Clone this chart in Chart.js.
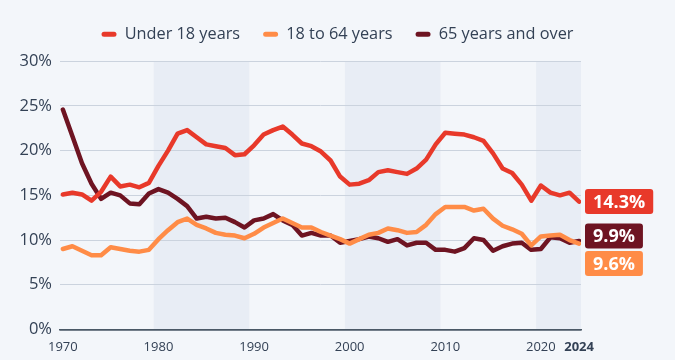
<!DOCTYPE html>
<html>
<head>
<meta charset="utf-8">
<script src="https://cdn.jsdelivr.net/npm/chart.js@4.4.1/dist/chart.umd.min.js"></script>
<style>
  html, body { margin: 0; padding: 0; background: #f3f6fa; }
  #wrap { width: 675px; height: 360px; position: relative; }
</style>
</head>
<body>
<div id="wrap"><canvas id="povertyChart"></canvas></div>
<script>
// Poverty rate by age group, 1970-2024 (%)
const years = [];
for (let y = 1970; y <= 2024; y++) years.push(y);

const under18 = [15.1, 15.3, 15.1, 14.4, 15.4, 17.1, 16.0, 16.2, 15.9, 16.4,
  18.3, 20.0, 21.9, 22.3, 21.5, 20.7, 20.5, 20.3, 19.5, 19.6,
  20.6, 21.8, 22.3, 22.7, 21.8, 20.8, 20.5, 19.9, 18.9, 17.1,
  16.2, 16.3, 16.7, 17.6, 17.8, 17.6, 17.4, 18.0, 19.0, 20.7,
  22.0, 21.9, 21.8, 21.5, 21.1, 19.7, 18.0, 17.5, 16.2, 14.4,
  16.1, 15.3, 15.0, 15.3, 14.3];

const age18to64 = [9.0, 9.3, 8.8, 8.3, 8.3, 9.2, 9.0, 8.8, 8.7, 8.9,
  10.1, 11.1, 12.0, 12.4, 11.7, 11.3, 10.8, 10.6, 10.5, 10.2,
  10.7, 11.4, 11.9, 12.4, 11.9, 11.4, 11.4, 10.9, 10.5, 10.1,
  9.6, 10.1, 10.6, 10.8, 11.3, 11.1, 10.8, 10.9, 11.7, 12.9,
  13.7, 13.7, 13.7, 13.3, 13.5, 12.4, 11.6, 11.2, 10.7, 9.4,
  10.4, 10.5, 10.6, 10.0, 9.6];

const over65 = [24.6, 21.6, 18.6, 16.3, 14.6, 15.3, 15.0, 14.1, 14.0, 15.2,
  15.7, 15.3, 14.6, 13.8, 12.4, 12.6, 12.4, 12.5, 12.0, 11.4,
  12.2, 12.4, 12.9, 12.2, 11.7, 10.5, 10.8, 10.5, 10.5, 9.7,
  9.9, 10.1, 10.4, 10.2, 9.8, 10.1, 9.4, 9.7, 9.7, 8.9,
  8.9, 8.7, 9.1, 10.2, 10.0, 8.8, 9.3, 9.6, 9.7, 8.9,
  9.0, 10.3, 10.2, 9.7, 9.9];

const xTicks = [1970, 1980, 1990, 2000, 2010, 2020, 2024];
const yTicks = [0, 5, 10, 15, 20, 25, 30];
// shaded decades
const bands = [[1979.5, 1989.5], [1999.5, 2009.5], [2019.5, 2024.5]];

const RED = "#e8392a";
const ORANGE = "#ff8c47";
const MAROON = "#6e1422";
const TEXT = "#334155";

function toPoints(arr) {
  return arr.map((v, i) => ({ x: years[i], y: v }));
}

// ==================== PLUGINS ====================

const backgroundPlugin = {
  id: "bgBands",
  beforeDraw(chart) {
    const { ctx, chartArea, scales } = chart;
    ctx.save();
    ctx.fillStyle = "#f3f6fa";
    ctx.fillRect(0, 0, chart.width, chart.height);
    ctx.fillStyle = "#e8edf5";
    bands.forEach(([a, b]) => {
      const x1 = Math.max(scales.x.getPixelForValue(a), chartArea.left);
      const x2 = Math.min(scales.x.getPixelForValue(b), chartArea.right);
      ctx.fillRect(x1, chartArea.top, x2 - x1, chartArea.bottom - chartArea.top);
    });
    ctx.restore();
  }
};

// extra room under the legend
const legendSpacer = {
  id: "legendSpacer",
  afterInit(chart) {
    const legend = chart.legend;
    if (!legend) return;
    const fit = legend.fit;
    legend.fit = function () {
      fit.call(this);
      this.height += 9;
    };
  }
};

const endLabelPlugin = {
  id: "endLabels",
  afterDatasetsDraw(chart) {
    const { ctx, chartArea, scales } = chart;
    const items = chart.data.datasets.map(ds => {
      const last = ds.data[ds.data.length - 1].y;
      return { value: last, y: scales.y.getPixelForValue(last), color: ds.borderColor };
    }).sort((a, b) => a.y - b.y);

    // keep boxes from overlapping: nudge the upper one a little, push the lower one down
    const gap = 27.5;
    for (let i = 1; i < items.length; i++) {
      const overlap = gap - (items[i].y - items[i - 1].y);
      if (overlap > 0) {
        const up = Math.min(5, overlap / 2);
        items[i - 1].y -= up;
        items[i].y = items[i - 1].y + gap;
      }
    }

    ctx.save();
    ctx.font = "bold 18px 'Open Sans'";
    ctx.textBaseline = "middle";
    items.forEach(it => {
      const label = it.value.toFixed(1) + "%";
      const w = ctx.measureText(label).width + 16;
      const h = 25;
      const x = chartArea.right + 4;
      ctx.fillStyle = it.color;
      ctx.beginPath();
      ctx.roundRect(x, it.y - h / 2, w, h, 3);
      ctx.fill();
      ctx.fillStyle = "#ffffff";
      ctx.fillText(label, x + 8, it.y + 1);
    });
    ctx.restore();
  }
};

// ==================== CHART ====================

function lineSet(label, data, color) {
  return {
    label: label,
    data: toPoints(data),
    borderColor: color,
    backgroundColor: color,
    borderWidth: 4.5,
    borderCapStyle: "round",
    borderJoinStyle: "round",
    pointRadius: 0,
    tension: 0,
    yAxisID: "y"
  };
}

const ctx = document.getElementById("povertyChart").getContext("2d");
new Chart(ctx, {
  type: "line",
  data: {
    datasets: [
      lineSet("Under 18 years", under18, RED),
      lineSet("18 to 64 years", age18to64, ORANGE),
      lineSet("65 years and over", over65, MAROON)
    ]
  },
  options: {
    responsive: true,
    maintainAspectRatio: false,
    animation: false,
    layout: {
      padding: { top: 3, left: 0, right: 0, bottom: 3 }
    },
    plugins: {
      legend: {
        position: "top",
        labels: {
          boxWidth: 15,
          boxHeight: 5,
          useBorderRadius: true,
          borderRadius: 2.5,
          padding: 23,
          color: TEXT,
          font: { family: "'Open Sans'", size: 16.3 },
          generateLabels(chart) {
            const items = Chart.defaults.plugins.legend.labels.generateLabels(chart);
            return items.map(it => Object.assign(it, { lineWidth: 0 }));
          }
        }
      },
      tooltip: { enabled: false }
    },
    scales: {
      x: {
        type: "linear",
        min: 1969.7,
        max: 2024.2,
        afterBuildTicks(axis) {
          axis.ticks = xTicks.map(v => ({ value: v }));
        },
        grid: { display: false },
        border: { display: true, color: "#4a5866", width: 1.5 },
        ticks: {
          padding: 2,
          maxRotation: 0,
          autoSkip: false,
          color: TEXT,
          font(c) {
            const isLast = c.tick && c.tick.value === 2024;
            return { family: "'Open Sans'", size: 13, weight: isLast ? "bold" : "normal" };
          },
          callback: v => String(v)
        }
      },
      y: {
        min: 0,
        max: 30,
        afterBuildTicks(axis) {
          axis.ticks = yTicks.map(v => ({ value: v }));
        },
        afterFit(axis) {
          axis.width = 60;
        },
        border: { display: false },
        grid: {
          drawTicks: false,
          color: c => (c.tick.value === 0 ? "#4a5866" : "#cbd3de"),
          lineWidth: c => (c.tick.value === 0 ? 1.5 : 1)
        },
        ticks: {
          padding: 8,
          color: TEXT,
          font: { family: "'Open Sans'", size: 16.5 },
          callback: v => v + "%"
        }
      },
      // empty right axis that leaves room for the end labels
      yRight: {
        position: "right",
        min: 0,
        max: 30,
        afterFit(axis) {
          axis.width = 94;
        },
        grid: { display: false, drawOnChartArea: false },
        border: { display: false },
        ticks: { display: false }
      }
    }
  },
  plugins: [backgroundPlugin, legendSpacer, endLabelPlugin]
});
</script>
</body>
</html>
